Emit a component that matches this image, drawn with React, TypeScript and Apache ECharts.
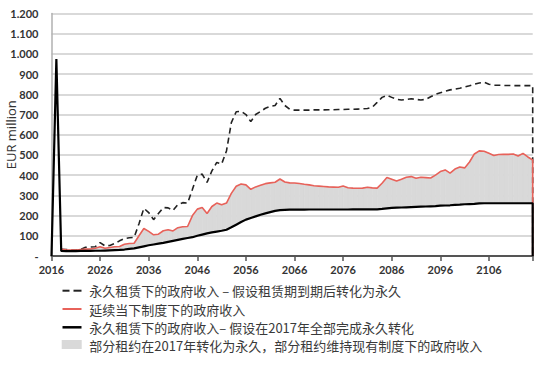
import React, { useEffect, useRef } from "react";
import * as echarts from "echarts";

const startYear = 2016;
const endYear = 2115;

// Black: permanent lease, full conversion in 2017 (2016..2115)
const blackValues = [
  0, 975, 25, 24, 24, 24, 25, 25, 25, 26,
  26, 27, 28, 29, 30, 32, 35, 38, 43, 48,
  53, 57, 61, 65, 70, 75, 80, 85, 89, 93,
  100, 106, 112, 117, 121, 125, 130, 142, 155, 168,
  180, 188, 196, 204, 211, 217, 223, 227, 228, 229,
  229, 229, 229, 230, 230, 230, 230, 230, 230, 230,
  230, 230, 231, 231, 231, 231, 231, 231, 233, 236,
  238, 239, 240, 241, 242, 243, 244, 245, 246, 247,
  249, 250, 251, 253, 254, 256, 257, 258, 260, 261,
  261, 261, 261, 261, 261, 261, 261, 261, 261, 261,
];

// Red: continuing current system (2018..2115)
const redValues = [
  33, 31, 30, 30, 32, 34, 35, 38,
  46, 38, 42, 46, 47, 58, 62, 63, 100, 136,
  122, 105, 108, 125, 130, 124, 140, 145, 146, 200,
  232, 240, 210, 245, 262, 253, 262, 310, 345, 356,
  352, 330, 342, 350, 358, 362, 365, 381, 366, 362,
  361, 359, 355, 352, 348, 346, 344, 342, 341, 340,
  346, 338, 336, 335, 336, 340, 337, 336, 360, 389,
  380, 371, 380, 390, 393, 385, 390, 388, 386, 400,
  418, 426, 410, 430, 440, 436, 465, 505, 520, 518,
  508, 497, 502, 503, 503, 505, 495, 508, 490, 475,
];

// Dashed: permanent lease, conversion at expiry (2018..2115)
const dashedValues = [
  33, 32, 30, 30, 33, 43, 44, 46,
  66, 50, 52, 62, 75, 86, 90, 92, 160, 236,
  215, 180, 210, 240, 238, 225, 255, 264, 262, 330,
  400, 405, 364, 421, 463, 455, 520, 660, 714, 716,
  700, 665, 700, 715, 731, 740, 745, 780, 745, 726,
  722, 722, 722, 722, 723, 723, 723, 724, 724, 725,
  725, 726, 726, 727, 728, 730, 736, 760, 785, 795,
  785, 775, 772, 775, 778, 775, 772, 775, 788, 800,
  808, 815, 822, 826, 830, 836, 842, 850, 856, 860,
  850, 845, 845, 844, 844, 843, 843, 843, 843, 843,
];

const yTicks = [0, 100, 200, 300, 400, 500, 600, 700, 800, 900, 1000, 1100, 1200];

const legendLabels = [
  "永久租赁下的政府收入 – 假设租赁期到期后转化为永久",
  "延续当下制度下的政府收入",
  "永久租赁下的政府收入– 假设在2017年全部完成永久转化",
  "部分租约在2017年转化为永久，部分租约维持现有制度下的政府收入",
];

const redColor = "#e8625a";
const grayFill = "#d9d9d9";

function yearsFrom(start: number, n: number) {
  return Array.from({ length: n }, (_, i) => start + i);
}

export default function App() {
  const ref = useRef<HTMLDivElement>(null);

  useEffect(() => {
    if (!ref.current) return;
    const chart = echarts.init(ref.current, undefined, { renderer: "svg" });

    const blackYears = yearsFrom(startYear, blackValues.length);
    const redYears = yearsFrom(2018, redValues.length);
    const dashedYears = yearsFrom(2018, dashedValues.length);

    const blackData: [number, number][] = blackYears.map((y, i) => [y, blackValues[i]]);
    blackData.push([endYear, 0]);
    const redData: [number, number][] = redYears.map((y, i) => [y, redValues[i]]);
    redData.push([endYear, 0]);
    const dashedData: [number, number][] = dashedYears.map((y, i) => [y, dashedValues[i]]);
    dashedData.push([endYear, 0]);

    // band segments between black (lower) and red (upper)
    const bandData: number[][] = [];
    for (let i = 0; i < redYears.length - 1; i++) {
      const y0 = redYears[i];
      const y1 = redYears[i + 1];
      bandData.push([y0, redValues[i], blackValues[y0 - startYear], y1, redValues[i + 1], blackValues[y1 - startYear]]);
    }

    const legendTop = [290.7, 309, 327.3, 345];
    const textStyleBase = {
      fontFamily: "'Noto Sans CJK SC', 'Noto Sans', sans-serif",
      fontSize: 13,
      fill: "#3a3a3a",
    };
    const graphics: any[] = [];
    graphics.push({ type: "line", shape: { x1: 62.5, y1: legendTop[0], x2: 69.5, y2: legendTop[0] }, style: { stroke: "#222", lineWidth: 2 } });
    graphics.push({ type: "line", shape: { x1: 73.5, y1: legendTop[0], x2: 81.5, y2: legendTop[0] }, style: { stroke: "#222", lineWidth: 2 } });
    graphics.push({ type: "line", shape: { x1: 62.5, y1: legendTop[1], x2: 81.5, y2: legendTop[1] }, style: { stroke: redColor, lineWidth: 2 } });
    graphics.push({ type: "line", shape: { x1: 62.5, y1: legendTop[2], x2: 81.5, y2: legendTop[2] }, style: { stroke: "#000", lineWidth: 2.5 } });
    graphics.push({ type: "rect", shape: { x: 61.7, y: legendTop[3] - 5, width: 20, height: 9 }, style: { fill: grayFill } });
    legendLabels.forEach((t, i) => {
      graphics.push({
        type: "text",
        x: 89.3,
        y: legendTop[i],
        style: { ...textStyleBase, text: t, verticalAlign: "middle", align: "left" },
      });
    });

    chart.setOption({
      animation: false,
      backgroundColor: "#ffffff",
      grid: { left: 51.5, right: 17.3, top: 13.5, bottom: 123, containLabel: false, outerBoundsMode: "none" },
      xAxis: {
        type: "value",
        min: startYear,
        max: endYear,
        interval: 10,
        splitLine: { show: false },
        axisLine: { show: true, lineStyle: { color: "#555", width: 2 } },
        axisTick: { show: true, length: 5, lineStyle: { color: "#555", width: 1.5 } },
        axisLabel: {
          formatter: (v: number) => ((v - startYear) % 10 === 0 ? String(v) : ""),
          color: "#333",
          fontWeight: "bold",
          fontSize: 11,
          fontFamily: "Lato, 'DejaVu Sans', sans-serif",
          margin: 8,
        },
      },
      yAxis: {
        type: "value",
        min: 0,
        max: 1200,
        interval: 100,
        name: "EUR million",
        nameLocation: "middle",
        nameGap: 34,
        nameMoveOverlap: false,
        nameTextStyle: { color: "#333", fontSize: 13, fontFamily: "'Open Sans', 'Noto Sans', sans-serif" },
        axisLine: { show: true, lineStyle: { color: "#b0b0b0", width: 1.5 } },
        axisTick: { show: false },
        splitLine: { show: true, lineStyle: { color: "#cccccc", width: 1.5 } },
        axisLabel: {
          formatter: (v: number) => {
            if (!yTicks.includes(v)) return "";
            if (v === 0) return "-";
            if (v >= 1000) return Math.floor(v / 1000) + "." + String(v % 1000).padStart(3, "0");
            return String(v);
          },
          color: "#333",
          fontWeight: "bold",
          fontSize: 11,
          fontFamily: "Lato, 'DejaVu Sans', sans-serif",
          margin: 13,
        },
      },
      series: [
        {
          name: legendLabels[3],
          type: "custom",
          data: bandData,
          silent: true,
          z: 1,
          encode: { x: [0, 3], y: [1, 2, 4, 5] },
          renderItem: (params: any, api: any) => {
            const p1 = api.coord([api.value(0), api.value(1)]);
            const p2 = api.coord([api.value(3), api.value(4)]);
            const p3 = api.coord([api.value(3), api.value(5)]);
            const p4 = api.coord([api.value(0), api.value(2)]);
            return {
              type: "polygon",
              shape: { points: [p1, p2, p3, p4] },
              style: { fill: grayFill, stroke: grayFill, lineWidth: 0.6 },
            };
          },
        },
        {
          name: legendLabels[0],
          type: "line",
          data: dashedData,
          showSymbol: false,
          lineStyle: { color: "#222", width: 1.6, type: [6, 4] },
          z: 3,
        },
        {
          name: legendLabels[1],
          type: "line",
          data: redData,
          showSymbol: false,
          lineStyle: { color: redColor, width: 1.6 },
          z: 4,
        },
        {
          name: legendLabels[2],
          type: "line",
          data: blackData,
          showSymbol: false,
          lineStyle: { color: "#000", width: 2.2 },
          z: 5,
        },
      ],
      graphic: graphics,
    });

    return () => chart.dispose();
  }, []);

  return <div ref={ref} style={{ width: 550, height: 379, position: "absolute", left: 0, top: 0 }} />;
}
